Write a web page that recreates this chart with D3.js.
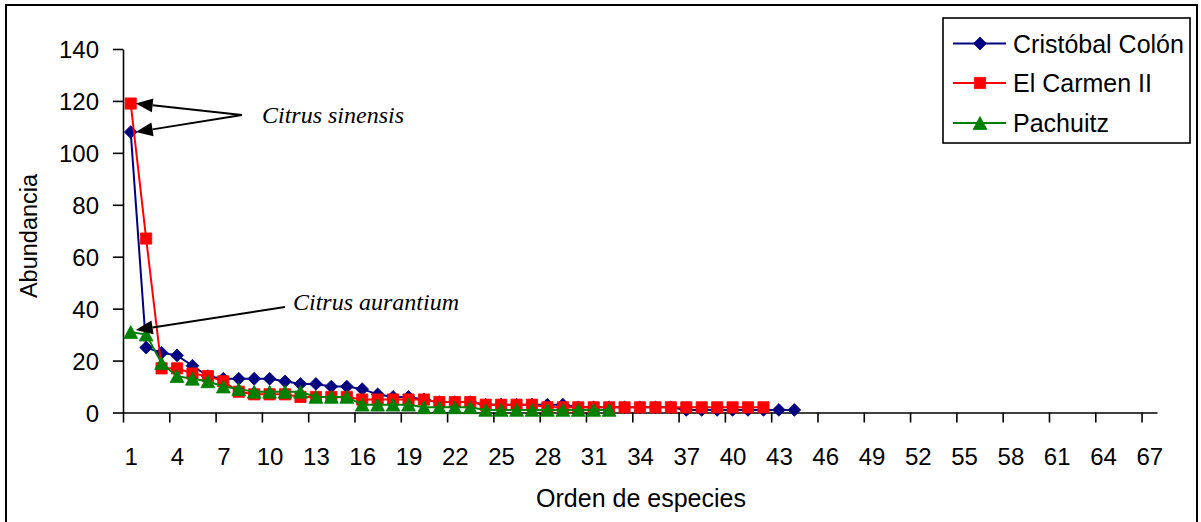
<!DOCTYPE html>
<html>
<head>
<meta charset="utf-8">
<script src="https://cdn.jsdelivr.net/npm/d3@7/dist/d3.min.js"></script>
<style>
  body { margin: 0; background: #fff; }
  svg { display: block; }
  text { font-family: "Liberation Sans", Arial, sans-serif; fill: #000; }
</style>
</head>
<body>
<svg id="chart" width="1201" height="522"></svg>
<script>
// Rank-abundance of tree species per home-garden site
const speciesRank = d3.range(1, 68);               // categories 1..67
const xTickLabels = [1, 4, 7, 10, 13, 16, 19, 22, 25, 28, 31, 34, 37, 40, 43, 46, 49, 52, 55, 58, 61, 64, 67];
const yTickValues = [0, 20, 40, 60, 80, 100, 120, 140];

const cristobalColon = [108, 25, 23, 22, 18, 14, 13, 13, 13, 13, 12, 11, 11, 10, 10, 9, 7, 6, 6, 5,
  4, 4, 4, 3, 3, 3, 3, 3, 3, 2, 2, 2, 2, 2, 2, 2, 1, 1, 1, 1, 1, 1, 1, 1];
const elCarmenII = [119, 67, 17, 17, 15, 14, 12, 8, 7, 7, 7, 6, 6, 6, 6, 5, 5, 5, 5, 5,
  4, 4, 4, 3, 3, 3, 3, 2, 2, 2, 2, 2, 2, 2, 2, 2, 2, 2, 2, 2, 2, 2];
const pachuitz = [31, 30, 19, 14, 13, 12, 10, 9, 8, 8, 8, 8, 6, 6, 6, 3, 3, 3, 3, 2,
  2, 2, 2, 1, 1, 1, 1, 1, 1, 1, 1, 1];

const seriesNames = ["Cristóbal Colón", "El Carmen II", "Pachuitz"];
const seriesColors = ["#000080", "#FF0000", "#008000"];
const seriesShapes = ["diamond", "square", "triangle"];

// Callouts: label text and the series whose first species they point at
const calloutLabels = ["Citrus sinensis", "Citrus aurantium"];
const calloutTargets = [[1, 0], [2]];

const svg = d3.select("#chart");

// outer frame
svg.append("rect")
  .attr("x", 6).attr("y", 5).attr("width", 1191).attr("height", 530)
  .attr("fill", "none").attr("stroke", "#000").attr("stroke-width", 2);

const x = d3.scaleLinear().domain([0.5, 67.5]).range([123, 1157]);
const y = d3.scaleLinear().domain([0, 140]).range([412.5, 49]);

// x axis: tick marks on category boundaries every 3, labels on categories
const boundaryTicks = d3.range(0.5, 67, 3);
svg.append("g")
  .attr("transform", `translate(0,${y(0)})`)
  .call(d3.axisBottom(x).tickValues(boundaryTicks).tickFormat("").tickSize(10).tickSizeOuter(0))
  .call(g => g.select(".domain").attr("stroke-width", 1.6))
  .call(g => g.selectAll(".tick line").attr("stroke-width", 1.6));

svg.append("g")
  .attr("transform", `translate(0,${y(0)})`)
  .call(d3.axisBottom(x).tickValues(xTickLabels).tickSize(0).tickPadding(0))
  .call(g => g.select(".domain").remove())
  .call(g => g.selectAll("text")
    .attr("dy", null).attr("y", 52)
    .style("font-size", "24px").style("font-family", "'Liberation Sans', Arial, sans-serif"));

// y axis
svg.append("g")
  .attr("transform", `translate(${x(0.5)},0)`)
  .call(d3.axisLeft(y).tickValues(yTickValues).tickSize(10).tickPadding(14).tickSizeOuter(0))
  .call(g => g.select(".domain").attr("stroke-width", 1.6))
  .call(g => g.selectAll(".tick line").attr("stroke-width", 1.6))
  .call(g => g.selectAll("text")
    .attr("dy", "0.36em")
    .style("font-size", "24px").style("font-family", "'Liberation Sans', Arial, sans-serif"));

// axis titles
svg.append("text")
  .attr("transform", "translate(37,236) rotate(-90)")
  .attr("text-anchor", "middle")
  .style("font-size", "23.5px")
  .text("Abundancia");

svg.append("text")
  .attr("x", 641).attr("y", 507)
  .attr("text-anchor", "middle")
  .style("font-size", "25px")
  .text("Orden de especies");

// marker shapes
function markerPath(shape) {
  if (shape === "diamond") return "M0,-6.4L6.4,0L0,6.4L-6.4,0Z";
  if (shape === "square") return "M-5.6,-5.6H5.6V5.6H-5.6Z";
  return "M0,-6.4L6.9,6.4L-6.9,6.4Z";
}

const allSeries = [cristobalColon, elCarmenII, pachuitz];
const line = d3.line().x((d, i) => x(speciesRank[i])).y(d => y(d));

allSeries.forEach((values, s) => {
  const g = svg.append("g");
  g.append("path")
    .attr("d", line(values))
    .attr("fill", "none")
    .attr("stroke", seriesColors[s])
    .attr("stroke-width", 2);
  g.selectAll("path.pt")
    .data(values)
    .join("path")
    .attr("class", "pt")
    .attr("transform", (d, i) => `translate(${x(speciesRank[i])},${y(d)})`)
    .attr("d", markerPath(seriesShapes[s]))
    .attr("fill", seriesColors[s])
    .attr("stroke", seriesColors[s])
    .attr("stroke-width", 0.8);
});

// callout arrows
function arrow(x1, y1, x2, y2) {
  const ang = Math.atan2(y2 - y1, x2 - x1);
  const len = 17, half = 7;
  const bx = x2 - len * Math.cos(ang), by = y2 - len * Math.sin(ang);
  svg.append("line")
    .attr("x1", x1).attr("y1", y1).attr("x2", bx).attr("y2", by)
    .attr("stroke", "#000").attr("stroke-width", 2);
  const px = -Math.sin(ang) * half, py = Math.cos(ang) * half;
  svg.append("path")
    .attr("d", `M${x2},${y2}L${bx + px},${by + py}L${bx - px},${by - py}Z`)
    .attr("fill", "#000");
}

const calloutAnchors = [[242, 115], [285, 307]];
const calloutTextPos = [[262, 123], [293, 310]];

calloutLabels.forEach((label, k) => {
  svg.append("text")
    .attr("x", calloutTextPos[k][0]).attr("y", calloutTextPos[k][1])
    .style("font-family", "'Liberation Serif', 'Times New Roman', serif")
    .style("font-style", "italic")
    .style("font-size", "24px")
    .text(label);
  calloutTargets[k].forEach(s => {
    const v = allSeries[s][0];
    arrow(calloutAnchors[k][0], calloutAnchors[k][1], x(speciesRank[0]) + 5, y(v) + (s === 2 ? -2 : 0));
  });
});

// legend
const legend = svg.append("g");
legend.append("rect")
  .attr("x", 943).attr("y", 18).attr("width", 247).attr("height", 125)
  .attr("fill", "#fff").attr("stroke", "#000").attr("stroke-width", 1.6);
const legendRows = [43.5, 83, 123];
seriesNames.forEach((name, s) => {
  const ry = legendRows[s];
  legend.append("line")
    .attr("x1", 953).attr("x2", 1006).attr("y1", ry).attr("y2", ry)
    .attr("stroke", seriesColors[s]).attr("stroke-width", 2);
  legend.append("path")
    .attr("transform", `translate(980,${ry})`)
    .attr("d", markerPath(seriesShapes[s]))
    .attr("fill", seriesColors[s]).attr("stroke", seriesColors[s]).attr("stroke-width", 0.8);
  legend.append("text")
    .attr("x", 1013).attr("y", ry)
    .attr("dy", "0.36em")
    .style("font-size", "25px")
    .text(name);
});
</script>
</body>
</html>
